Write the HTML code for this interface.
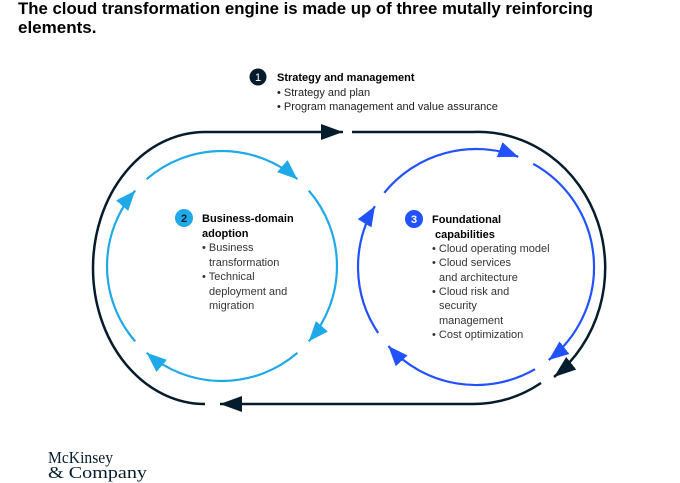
<!DOCTYPE html>
<html><head><meta charset="utf-8"><style>
html,body{margin:0;padding:0;background:#fff;}
body{width:680px;height:483px;overflow:hidden;position:relative;font-family:"Liberation Sans",Arial,sans-serif;}
svg{position:absolute;left:0;top:0;}
</style></head><body>
<svg width="680" height="483" viewBox="0 0 680 483" xmlns="http://www.w3.org/2000/svg">
<defs>
<marker id="mk" markerUnits="userSpaceOnUse" markerWidth="24" markerHeight="18" refX="22" refY="8" orient="auto"><path d="M0,0 L22,8 L0,16 Z" fill="#051c2c"/></marker>
<marker id="mc" markerUnits="userSpaceOnUse" markerWidth="22" markerHeight="18" refX="20" refY="8" orient="auto"><path d="M0,0 L20,8 L0,16 Z" fill="#1fa9e8"/></marker>
<marker id="mb" markerUnits="userSpaceOnUse" markerWidth="22" markerHeight="18" refX="20" refY="8" orient="auto"><path d="M0,0 L20,8 L0,16 Z" fill="#2251ff"/></marker>
</defs>
<text x="18" y="14" font-size="17" font-weight="bold" fill="#000" textLength="575" lengthAdjust="spacingAndGlyphs">The cloud transformation engine is made up of three mutally reinforcing</text>
<text x="18" y="33" font-size="17" font-weight="bold" fill="#000">elements.</text>

<g fill="none" stroke="#051c2c" stroke-width="2.5">
<path d="M205 404 A112 136 0 0 1 205 132 L343 132" marker-end="url(#mk)"/>
<path d="M352 132 L473 132 A127 136 0 0 1 554 377" marker-end="url(#mk)"/>
<path d="M541 383 A127 136 0 0 1 473 404 L220 404" marker-end="url(#mk)"/>
</g>

<g fill="none" stroke="#1fa9e8" stroke-width="2.2">
<path d="M146.6 179.2 A115 115 0 0 1 297.4 179.2" marker-end="url(#mc)"/>
<path d="M308.8 190.6 A115 115 0 0 1 308.8 341.4" marker-end="url(#mc)"/>
<path d="M297.4 352.8 A115 115 0 0 1 146.6 352.8" marker-end="url(#mc)"/>
<path d="M135.2 341.4 A115 115 0 0 1 135.2 190.6" marker-end="url(#mc)"/>
</g>

<g fill="none" stroke="#2251ff" stroke-width="2.2">
<path d="M384.3 192.8 A118 118 0 0 1 518.3 156.8" marker-end="url(#mb)"/>
<path d="M533.2 163.8 A118 118 0 0 1 548.7 360" marker-end="url(#mb)"/>
<path d="M535 369.2 A118 118 0 0 1 388.3 346" marker-end="url(#mb)"/>
<path d="M378.2 333 A118 118 0 0 1 374.9 206.2" marker-end="url(#mb)"/>
</g>

<circle cx="258" cy="77" r="8.5" fill="#051c2c"/>
<text x="258" y="81" font-size="11" fill="#fff" text-anchor="middle">1</text>
<g font-size="11" fill="#222">
<text x="277" y="81" font-weight="bold" fill="#000">Strategy and management</text>
<text x="277" y="96">• Strategy and plan</text>
<text x="277" y="110">• Program management and value assurance</text>
</g>

<circle cx="184" cy="218" r="9" fill="#1fa9e8"/>
<text x="184" y="222" font-size="11" font-weight="bold" fill="#051c2c" text-anchor="middle">2</text>
<g font-size="11" fill="#333">
<text x="202" y="222" font-weight="bold" fill="#000">Business-domain</text>
<text x="202" y="237" font-weight="bold" fill="#000">adoption</text>
<text x="202" y="251">• Business</text>
<text x="209" y="266">transformation</text>
<text x="202" y="280">• Technical</text>
<text x="209" y="295">deployment and</text>
<text x="209" y="309">migration</text>
</g>

<circle cx="414" cy="219" r="9" fill="#2251ff"/>
<text x="414" y="223" font-size="11" font-weight="bold" fill="#fff" text-anchor="middle">3</text>
<g font-size="11" fill="#333">
<text x="432" y="223" font-weight="bold" fill="#000">Foundational</text>
<text x="435" y="238" font-weight="bold" fill="#000">capabilities</text>
<text x="432" y="252">• Cloud operating model</text>
<text x="432" y="266">• Cloud services</text>
<text x="439" y="281">and architecture</text>
<text x="432" y="295">• Cloud risk and</text>
<text x="439" y="309">security</text>
<text x="439" y="324">management</text>
<text x="432" y="338">• Cost optimization</text>
</g>

<g font-family="'Liberation Serif',serif" font-size="17" fill="#051c2c">
<text x="48" y="463" textLength="65" lengthAdjust="spacingAndGlyphs">McKinsey</text>
<text x="48" y="478" textLength="99" lengthAdjust="spacingAndGlyphs">&amp; Company</text>
</g>
</svg>
</body></html>
